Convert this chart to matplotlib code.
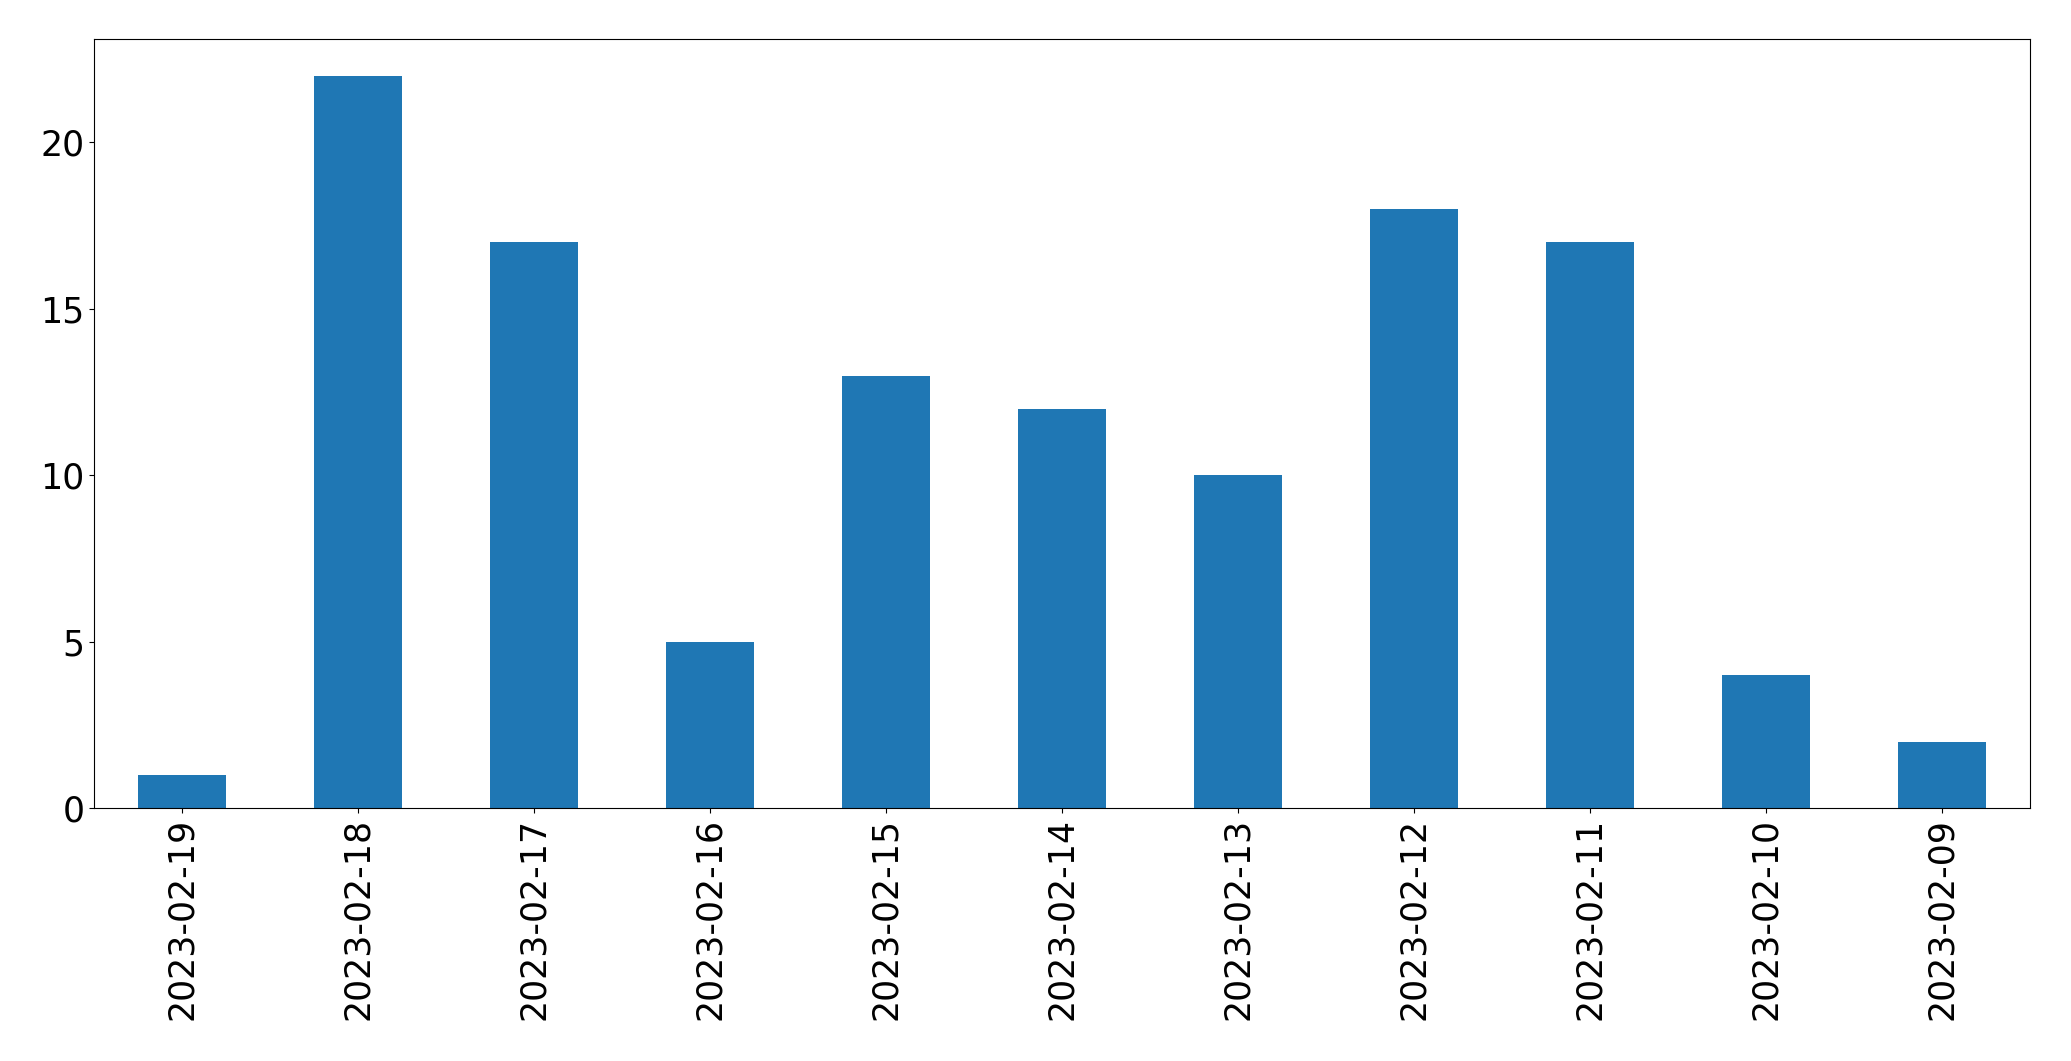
import pandas as pd
import matplotlib.pyplot as plt

# DATA
dates = ['2023-02-19', '2023-02-18', '2023-02-17', '2023-02-16', '2023-02-15', '2023-02-14',
         '2023-02-13', '2023-02-12', '2023-02-11', '2023-02-10', '2023-02-09']
counts = [1, 22, 17, 5, 13, 12, 10, 18, 17, 4, 2]

s = pd.Series(counts, index=dates)

fig, ax = plt.subplots(figsize=(20.71, 10.61), dpi=100)
s.plot(kind='bar', ax=ax, color='#1f77b4')
ax.tick_params(axis='both', labelsize=25)
plt.subplots_adjust(left=0.0455, right=0.980, top=0.963, bottom=0.238)
fig.savefig('out.png', dpi=100)
